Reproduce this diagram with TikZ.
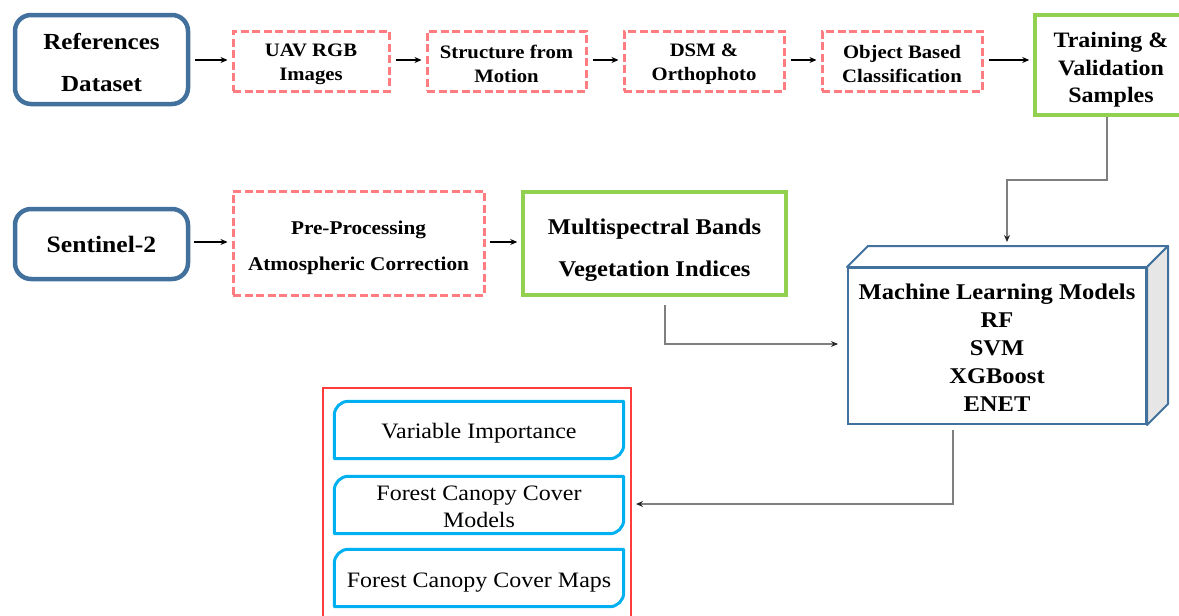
\documentclass[tikz,border=0pt]{standalone}
\usepackage{fontspec}
\setmainfont{Liberation Serif}[FakeStretch=1.09]
\usetikzlibrary{arrows.meta,calc}

\definecolor{refblue}{HTML}{41719C}
\definecolor{dashpink}{HTML}{FF7C80}
\definecolor{leafgreen}{HTML}{92D050}
\definecolor{skyblue}{HTML}{00B0F0}
\definecolor{sidegray}{HTML}{E7E6E6}
\definecolor{linkgray}{HTML}{7F7F7F}
\definecolor{framered}{HTML}{FF3B3B}

\tikzset{
  refbox/.style={draw=refblue, line width=4.5pt, rounded corners=16pt, fill=white,
    inner sep=0pt, minimum width=173pt},
  dashbox/.style={draw=dashpink, line width=3pt, dash pattern=on 8pt off 3.5pt,
    inner sep=0pt},
  greenbox/.style={draw=leafgreen, line width=3.5pt, inner sep=0pt},
  label/.style={inner sep=0pt, align=center},
  smallbold/.style={label, font=\fontsize{19}{24}\selectfont\bfseries},
  outtext/.style={label, font=\fontsize{22}{27}\selectfont},
  flowarrow/.style={-{Stealth[length=7pt,width=6pt]}, line width=1.3pt},
  linkarrow/.style={draw=linkgray, line width=1.3pt,
    -{Stealth[length=7pt,width=6pt,fill=black!85,color=black!85]}},
  outbox/.style={minimum width=289pt, minimum height=57pt, inner sep=0pt},
  outline/.style={draw=skyblue, line width=3pt, line join=round},
}

\begin{document}
\begin{tikzpicture}[x=1pt, y=-1pt]
\useasboundingbox (0,0) rectangle (1179,616);
\clip (0,0) rectangle (1179,616);

% --- UAV branch -------------------------------------------------------
\node[refbox, minimum height=89pt] (ref) at (101.5,59.5) {};
\node[label, font=\fontsize{23}{42}\selectfont\bfseries] (ref-t) at (101.5,62.5)
  {References\\Dataset};

\node[dashbox, minimum width=156pt, minimum height=60pt] (uav) at (311,61) {};
\node[dashbox, minimum width=159pt, minimum height=60pt] (sfm) at (506.5,61) {};
\node[dashbox, minimum width=160pt, minimum height=60pt] (dsm) at (704,61) {};
\node[dashbox, minimum width=160pt, minimum height=60pt] (obc) at (902,61) {};
\node[smallbold] (uav-t) at (311,64) {UAV RGB\\Images};
\node[smallbold] (sfm-t) at (506.5,64) {Structure from\\Motion};
\node[smallbold] (dsm-t) at (704,64) {DSM \&\\Orthophoto};
\node[smallbold] (obc-t) at (902,64) {Object Based\\Classification};

\node[greenbox, minimum width=158pt, minimum height=100pt] (train) at (1114,65) {};
\node[label, font=\fontsize{22}{27.5}\selectfont\bfseries] (train-t) at (1111,70)
  {Training \&\\Validation\\Samples};

\foreach \a/\b in {ref/uav, uav/sfm, sfm/dsm, dsm/obc, obc/train}
  \draw[flowarrow, shorten <=5pt, shorten >=4pt] (\a.east |- 0,60) -- (\b.west |- 0,60);

% --- Sentinel-2 branch ------------------------------------------------
\node[refbox, minimum height=70pt] (sen) at (101.5,244) {};
\node[label, font=\fontsize{23.5}{28}\selectfont\bfseries] (sen-t) at (101.5,244)
  {Sentinel-2};
\node[dashbox, minimum width=251pt, minimum height=104pt] (pre) at (358.5,243) {};
\node[label, font=\fontsize{19.5}{36}\selectfont\bfseries] (pre-t) at (358.5,248)
  {Pre-Processing\\Atmospheric Correction};
\node[greenbox, minimum width=263pt, minimum height=103pt] (msb) at (654.5,243.5) {};
\node[label, font=\fontsize{22.5}{42}\selectfont\bfseries] (msb-t) at (654.5,250)
  {Multispectral Bands\\Vegetation Indices};

\draw[flowarrow, shorten <=4pt, shorten >=4pt] (sen.east |- 0,242) -- (pre.west |- 0,242);
\draw[flowarrow, shorten <=4pt, shorten >=4pt] (pre.east |- 0,242) -- (msb.west |- 0,242);

% --- Machine learning block (drawn as a 3D box) -----------------------
\node[draw=refblue, line width=2pt, fill=white, minimum width=298pt, minimum height=156pt,
  inner sep=0pt] (ml) at (997,346) {};
\draw[draw=refblue, line width=2pt, fill=white, line join=round]
  (ml.north west) -- ($(ml.north west)+(21pt,21pt)$) -- ($(ml.north east)+(21pt,21pt)$)
  -- (ml.north east) -- cycle;
\draw[draw=refblue, line width=2pt, fill=sidegray, line join=round]
  (ml.north east) -- ($(ml.north east)+(21pt,21pt)$) -- ($(ml.south east)+(21pt,21pt)$)
  -- (ml.south east) -- cycle;
\node[label, font=\fontsize{22.5}{28}\selectfont\bfseries] (ml-t) at (997,348)
  {Machine Learning Models\\RF\\SVM\\XGBoost\\ENET};

% --- Outputs ----------------------------------------------------------
\draw[framered, line width=1.2pt] (323,388) rectangle (631,622);
\node[outbox] (vi) at (479,430) {};
\node[outbox] (fcm) at (479,505) {};
\node[outbox] (fcmap) at (479,578) {};
\node[outtext] (vi-t) at (479,433) {Variable Importance};
\node[outtext] (fcm-t) at (479,506.5) {Forest Canopy Cover\\Models};
\node[outtext] (fcmap-t) at (479,583) {Forest Canopy Cover Maps};
\def\rr{14pt}
\foreach \b in {vi,fcm,fcmap}
  \draw[outline]
    ($(\b.north west)+(\rr,0pt)$) -- (\b.north east)
    -- ($(\b.south east)+(0pt,\rr)$)
       .. controls ($(\b.south east)+(0pt,0.45*\rr)$) and ($(\b.south east)+(-0.45*\rr,0pt)$)
       .. ($(\b.south east)+(-\rr,0pt)$)
    -- (\b.south west)
    -- ($(\b.north west)+(0pt,-\rr)$)
       .. controls ($(\b.north west)+(0pt,-0.45*\rr)$) and ($(\b.north west)+(0.45*\rr,0pt)$)
       .. ($(\b.north west)+(\rr,0pt)$)
    -- cycle;

% --- Links between blocks ---------------------------------------------
\coordinate (t0) at (1107,117);
\coordinate (m0) at (665,305);
\coordinate (l0) at (953,430);
\coordinate (mltop) at (1007,242);
\coordinate (mlleft) at (838,344);
\coordinate (outin) at (636,504);

\draw[linkarrow] (t0) |- (1007,180) -- (mltop);
\draw[linkarrow] (m0) |- (mlleft);
\draw[linkarrow] (l0) |- (outin);
\end{tikzpicture}
\end{document}
